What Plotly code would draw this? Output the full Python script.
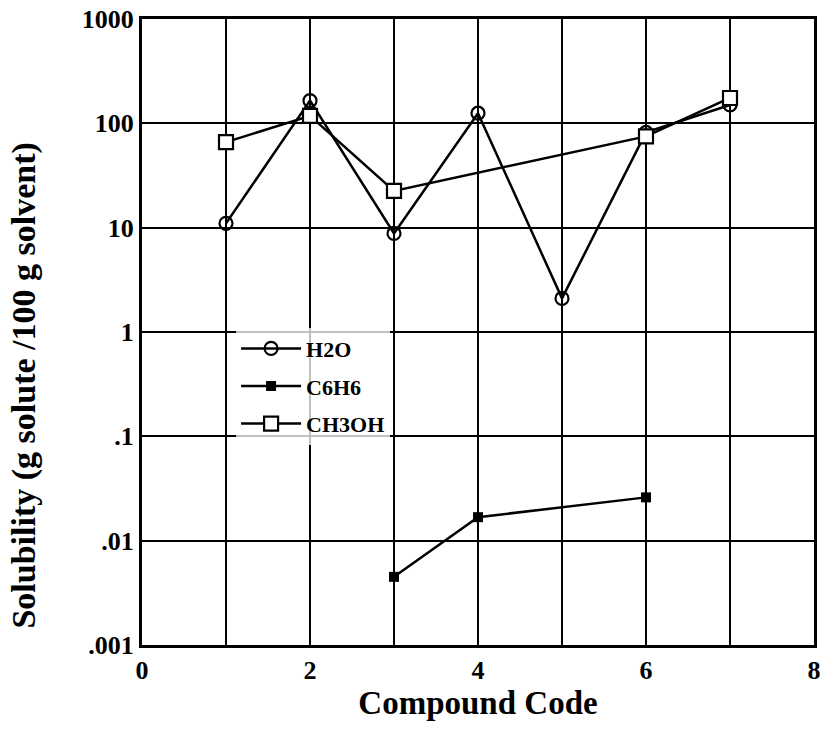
import plotly.graph_objects as go

compound_h2o = [1, 2, 3, 4, 5, 6, 7]
h2o = [11, 165, 8.8, 125, 2.1, 82, 150]

compound_c6h6 = [3, 4, 6]
c6h6 = [0.0045, 0.0168, 0.026]

compound_ch3oh = [1, 2, 3, 6, 7]
ch3oh = [66, 118, 22.5, 75, 175]

y_tickvals = [0.001, 0.01, 0.1, 1, 10, 100, 1000]
y_ticktext = [".001", ".01", ".1", "1", "10", "100", "1000"]
x_tickvals = [0, 1, 2, 3, 4, 5, 6, 7, 8]
x_ticktext = ["0", "", "2", "", "4", "", "6", "", "8"]

font_family = "Liberation Serif"

fig = go.Figure()
fig.add_trace(go.Scatter(
    x=compound_h2o, y=h2o, name="H2O", mode="lines+markers", legendgroup="a",
    line=dict(color="black", width=2.5),
    marker=dict(symbol="circle-open", size=13, color="black", line=dict(width=2.2)),
))
fig.add_trace(go.Scatter(
    x=compound_c6h6, y=c6h6, name="C6H6", mode="lines+markers", legendgroup="b",
    line=dict(color="black", width=2.5),
    marker=dict(symbol="square", size=10, color="black"),
))
fig.add_trace(go.Scatter(
    x=compound_ch3oh, y=ch3oh, name="CH3OH", mode="lines+markers", legendgroup="c",
    line=dict(color="black", width=2.5),
    marker=dict(symbol="square", size=14, color="white", line=dict(color="black", width=2.2)),
))

fig.update_layout(
    width=825, height=742,
    margin=dict(l=142, r=4, t=19, b=97),
    paper_bgcolor="white", plot_bgcolor="white",
    font=dict(family=font_family, color="black", size=20),
    showlegend=True,
    legend=dict(
        x=0.14, y=0.507, xanchor="left", yanchor="top",
        bgcolor="rgba(255,255,255,0.75)",
        font=dict(family=font_family, size=22, color="black", weight="bold"),
        tracegroupgap=6, itemwidth=60,
    ),
    xaxis=dict(
        range=[0, 8], tickvals=x_tickvals, ticktext=x_ticktext,
        showgrid=True, gridcolor="black", gridwidth=1.6,
        showline=True, linecolor="black", linewidth=3, mirror=True,
        ticks="", zeroline=False,
        tickfont=dict(family=font_family, size=26, weight="bold"),
        title=dict(text="Compound Code", standoff=4,
                   font=dict(family=font_family, size=33, weight="bold")),
    ),
    yaxis=dict(
        type="log", range=[-3, 3], tickvals=y_tickvals, ticktext=y_ticktext,
        showgrid=True, gridcolor="black", gridwidth=1.6,
        showline=True, linecolor="black", linewidth=3, mirror=True,
        ticks="", zeroline=False,
        tickfont=dict(family=font_family, size=26, weight="bold"),
    ),
    annotations=[dict(
        text="Solubility (g solute /100 g solvent)", textangle=-90,
        xref="paper", yref="paper", x=-0.175, y=0.415,
        xanchor="center", yanchor="middle", showarrow=False,
        font=dict(family=font_family, size=34, weight="bold", color="black"),
    )],
)

fig.write_html("out.html")
